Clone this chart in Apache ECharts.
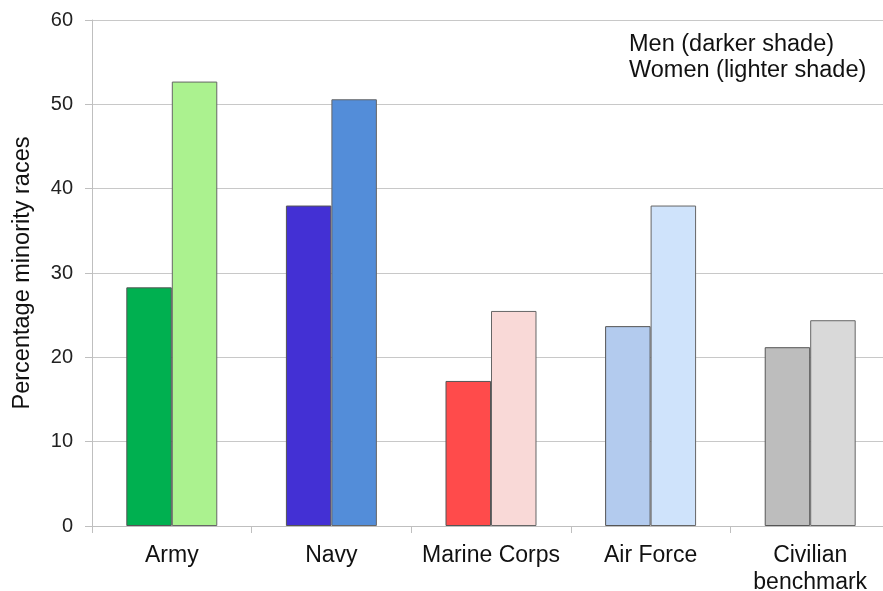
<!DOCTYPE html>
<html>
<head>
<meta charset="utf-8">
<script src="https://cdn.jsdelivr.net/npm/echarts@6/dist/echarts.min.js"></script>
<style>
html,body{margin:0;padding:0;background:#fff;overflow:hidden;}
#chart{width:883px;height:591px;}
</style>
</head>
<body>
<div id="chart"></div>
<script>
var categories = ['Army', 'Navy', 'Marine Corps', 'Air Force', 'Civilian\nbenchmark'];
var menValues = [28.3, 38.0, 17.2, 23.7, 21.2];
var womenValues = [52.7, 50.6, 25.5, 38.0, 24.4];
var menColors = ['#00b050', '#4330d4', '#ff4b4b', '#b3cbee', '#bdbdbd'];
var womenColors = ['#abf28f', '#538dd9', '#f9d9d7', '#cfe3fb', '#d9d9d9'];
var yTicks = [0, 10, 20, 30, 40, 50, 60];

var font = 'Liberation Sans, Arial, sans-serif';
function buildData(vals, cols) {
  return vals.map(function (v, i) {
    return { value: v, itemStyle: { color: cols[i] } };
  });
}
var chart = echarts.init(document.getElementById('chart'));
chart.setOption({
  animation: false,
  grid: { left: 92, width: 798, top: 20, height: 506, containLabel: false, outerBoundsMode: 'none' },
  graphic: [{
    type: 'text', left: 629, top: 32,
    style: { text: 'Men (darker shade)\nWomen (lighter shade)', font: '23.5px ' + font, fill: '#111', lineHeight: 26 }
  }],
  xAxis: {
    type: 'category',
    data: categories,
    axisLine: { show: true, lineStyle: { color: '#bfbfbf' } },
    axisTick: { show: true, interval: 0, length: 7, lineStyle: { color: '#bfbfbf' } },
    axisLabel: { interval: 0, fontFamily: font, fontSize: 23, color: '#111', margin: 16, lineHeight: 27 }
  },
  yAxis: {
    type: 'value',
    min: 0, max: 60, interval: 10,
    name: 'Percentage minority races',
    nameLocation: 'middle',
    nameGap: 57,
    nameTextStyle: { fontFamily: font, fontSize: 23.5, color: '#111' },
    axisLine: { show: true, lineStyle: { color: '#bfbfbf' } },
    axisTick: { show: true, length: 7, lineStyle: { color: '#bfbfbf' } },
    axisLabel: { fontFamily: font, fontSize: 20, color: '#222', margin: 19,
      formatter: function (v) { return yTicks.indexOf(v) >= 0 ? String(v) : ''; } },
    splitLine: { show: true, lineStyle: { color: '#c8c8c8' } }
  },
  series: [
    { type: 'bar', name: 'Men', data: buildData(menValues, menColors), barGap: '0%', barCategoryGap: '43%',
      itemStyle: { borderColor: '#555', borderWidth: 1 } },
    { type: 'bar', name: 'Women', data: buildData(womenValues, womenColors),
      itemStyle: { borderColor: '#666', borderWidth: 1 } }
  ]
});
</script>
</body>
</html>
